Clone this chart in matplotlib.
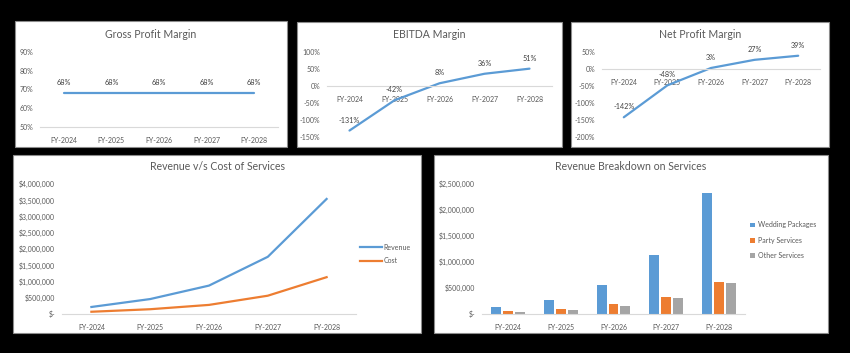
import matplotlib.pyplot as plt
from matplotlib.patches import Rectangle
from matplotlib.ticker import FuncFormatter, MultipleLocator

plt.rcParams['font.family'] = ['Lato', 'DejaVu Sans']

years = ['FY-2024', 'FY-2025', 'FY-2026', 'FY-2027', 'FY-2028']
gross_margin = [68, 68, 68, 68, 68]
ebitda_margin = [-131, -42, 8, 36, 51]
net_margin = [-142, -48, 3, 27, 39]
revenue = [216000, 460000, 874000, 1760000, 3540000]
cost = [69000, 147000, 280000, 563000, 1133000]
wedding = [129000, 272000, 560000, 1130000, 2330000]
party = [50000, 96000, 186000, 330000, 610000]
other = [38000, 84000, 154000, 300000, 600000]

W, H = 850, 353
BLUE, ORANGE, GREY = '#5B9BD5', '#ED7D31', '#A5A5A5'
TXT = '#595959'

fig = plt.figure(figsize=(W / 100, H / 100), dpi=100, facecolor='black')


def fbox(x0, y0, x1, y1):
    # pixel box (top-left origin) -> figure fraction rect
    return [x0 / W, 1 - y1 / H, (x1 - x0) / W, (y1 - y0) / H]


def panel(x0, y0, x1, y1, title, ty):
    fig.patches.append(Rectangle((x0 / W, 1 - y1 / H), (x1 - x0) / W, (y1 - y0) / H,
                                 transform=fig.transFigure, facecolor='white',
                                 edgecolor='#8c8c8c', linewidth=0.8, zorder=-5))
    fig.text((x0 + x1) / 2 / W, 1 - ty / H, title, ha='center', va='center',
             fontsize=7.6, color=TXT)


def style(ax, zero):
    ax.set_facecolor('none')
    for s in ['left', 'right', 'top']:
        ax.spines[s].set_visible(False)
    ax.spines['bottom'].set_position(('data', zero))
    ax.spines['bottom'].set_color('#D9D9D9')
    ax.spines['bottom'].set_linewidth(0.8)
    ax.tick_params(length=0, labelsize=5, colors=TXT)
    ax.tick_params(axis='x', pad=7)
    ax.tick_params(axis='y', pad=5)
    ax.set_xticks(range(5))
    ax.set_xticklabels(years)
    ax.set_xlim(-0.5, 4.5)


pct = FuncFormatter(lambda v, p: f'{v:.0f}%')
usd = FuncFormatter(lambda v, p: '$-' if v == 0 else f'${v:,.0f}')


def margin_chart(rect, vals, lo, hi, zero):
    ax = fig.add_axes(rect)
    ax.plot(range(5), vals, color=BLUE, linewidth=1.6, solid_capstyle='round')
    ax.set_ylim(lo, hi)
    ax.yaxis.set_major_locator(MultipleLocator(50 if hi - lo > 50 else 10))
    ax.yaxis.set_major_formatter(pct)
    style(ax, zero)
    for i, v in enumerate(vals):
        ax.annotate(f'{v}%', (i, v), xytext=(0, 5), textcoords='offset points',
                    ha='center', va='bottom', fontsize=5.2, color='#404040')
    return ax


# top row
panel(15, 21, 287, 147, 'Gross Profit Margin', 35)
margin_chart(fbox(40, 52, 278, 127), gross_margin, 50, 90, 50)

panel(297, 22, 562, 147, 'EBITDA Margin', 35)
margin_chart(fbox(327, 52, 552, 137), ebitda_margin, -150, 100, 0)

panel(571, 22, 829, 147, 'Net Profit Margin', 35)
margin_chart(fbox(602, 52, 820, 137), net_margin, -200, 50, 0)

# revenue vs cost
panel(13, 155, 421, 333, 'Revenue v/s Cost of Services', 167)
ax4 = fig.add_axes(fbox(62, 184, 356, 314))
ax4.plot(range(5), revenue, color=BLUE, linewidth=1.6, label='Revenue')
ax4.plot(range(5), cost, color=ORANGE, linewidth=1.6, label='Cost')
ax4.set_ylim(0, 4000000)
ax4.yaxis.set_major_locator(MultipleLocator(500000))
ax4.yaxis.set_major_formatter(usd)
style(ax4, 0)
ax4.legend(loc='center left', bbox_to_anchor=(354 / W, 1 - 254 / H),
           bbox_transform=fig.transFigure, frameon=False, fontsize=5,
           labelcolor=TXT, handlelength=3.2, handletextpad=0.2, labelspacing=0.97)

# revenue breakdown
panel(434, 155, 828, 333, 'Revenue Breakdown on Services', 167)
ax5 = fig.add_axes(fbox(482, 184, 745, 314))
bw, step = 0.19, 0.225
x = range(5)
ax5.bar([i - step for i in x], wedding, bw, color=BLUE, label='Wedding Packages')
ax5.bar(list(x), party, bw, color=ORANGE, label='Party Services')
ax5.bar([i + step for i in x], other, bw, color=GREY, label='Other Services')
ax5.set_ylim(0, 2500000)
ax5.yaxis.set_major_locator(MultipleLocator(500000))
ax5.yaxis.set_major_formatter(usd)
style(ax5, 0)
ax5.legend(loc='center left', bbox_to_anchor=(744 / W, 1 - 240 / H),
           bbox_transform=fig.transFigure, frameon=False, fontsize=5,
           labelcolor=TXT, handlelength=0.7, handleheight=0.7,
           handletextpad=0.4, labelspacing=1.17)

fig.savefig('out.png', dpi=100, facecolor='black')
